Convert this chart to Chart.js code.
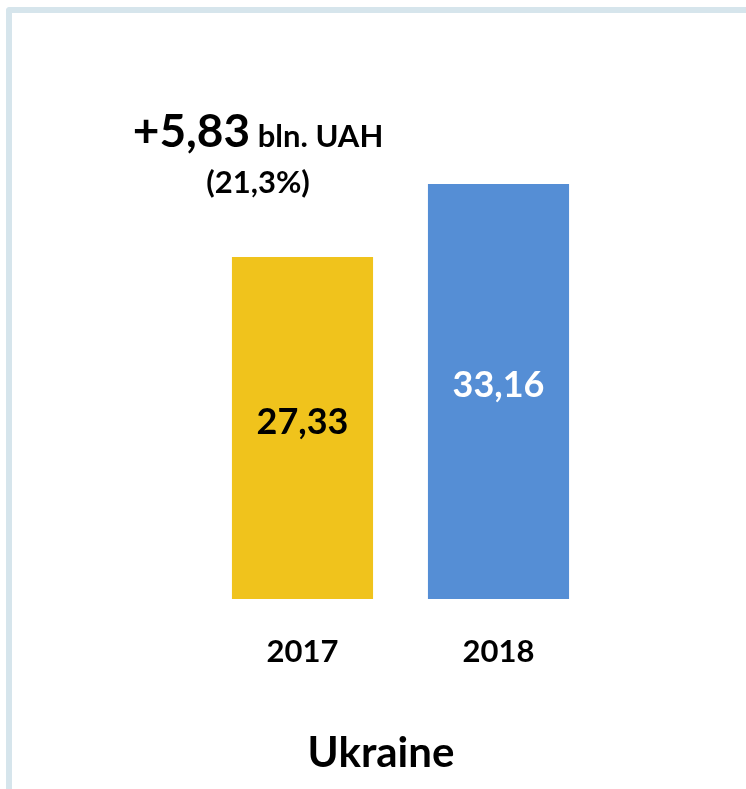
<!DOCTYPE html>
<html>
<head>
<meta charset="utf-8">
<script src="https://cdn.jsdelivr.net/npm/chart.js@4"></script>
<style>
  html, body { margin: 0; padding: 0; background: #ffffff; }
  #wrap { position: relative; width: 746px; height: 789px; overflow: hidden; }
  #frame { position: absolute; left: 6px; top: 7px; width: 800px; height: 900px;
           border-left: 6px solid #d6e5ec; border-top: 6px solid #d6e5ec;
           border-top-left-radius: 4px; box-sizing: border-box; }
  canvas { position: absolute; left: 0; top: 0; }
</style>
</head>
<body>
<div id="wrap">
  <div id="frame"></div>
  <canvas id="c" width="746" height="789"></canvas>
</div>
<script>
const categories = ['2017', '2018'];
const values = [27.33, 33.16];
const valueLabels = ['27,33', '33,16'];
const barColors = ['#f0c31c', '#558ed5'];
const labelColors = ['#000000', '#ffffff'];
const chartTitle = 'Ukraine';
const changeMain = '+5,83';
const changeUnit = ' bln. UAH';
const changePct = '(21,3%)';

const FONT = 'Lato, "Open Sans", sans-serif';

const barLabelsPlugin = {
  id: 'barLabels',
  afterDatasetsDraw(chart) {
    const ctx = chart.ctx;
    const meta = chart.getDatasetMeta(0);
    ctx.save();
    ctx.font = 'bold 36px ' + FONT;
    ctx.textAlign = 'center';
    ctx.textBaseline = 'middle';
    meta.data.forEach((bar, i) => {
      const cy = (bar.y + bar.base) / 2 - 6;
      ctx.fillStyle = labelColors[i];
      ctx.fillText(valueLabels[i], bar.x, cy);
    });
    ctx.restore();
  }
};

const changePlugin = {
  id: 'changeNote',
  afterDraw(chart) {
    const ctx = chart.ctx;
    const cx = 258;
    ctx.save();
    ctx.fillStyle = '#000000';
    ctx.textBaseline = 'alphabetic';
    ctx.font = 'bold 46px ' + FONT;
    const w1 = ctx.measureText(changeMain).width;
    ctx.font = 'bold 31px ' + FONT;
    const w2 = ctx.measureText(changeUnit).width;
    const start = cx - (w1 + w2) / 2;
    ctx.textAlign = 'left';
    ctx.font = 'bold 46px ' + FONT;
    ctx.fillText(changeMain, start, 147);
    ctx.font = 'bold 31px ' + FONT;
    ctx.fillText(changeUnit, start + w1, 147);
    ctx.textAlign = 'center';
    ctx.fillText(changePct, cx, 193);
    ctx.restore();
  }
};

new Chart(document.getElementById('c'), {
  type: 'bar',
  data: {
    labels: categories,
    datasets: [{
      data: values,
      backgroundColor: barColors,
      borderWidth: 0,
      categoryPercentage: 1.0,
      barPercentage: 0.72
    }]
  },
  options: {
    responsive: false,
    animation: false,
    events: [],
    layout: { padding: { left: 165.5, right: 149.5, top: 98.4, bottom: 10.6 } },
    plugins: {
      legend: { display: false },
      tooltip: { enabled: false },
      title: {
        display: true,
        position: 'bottom',
        text: chartTitle,
        color: '#000000',
        font: { family: FONT, size: 42, weight: 'bold', lineHeight: 1.2 },
        padding: { top: 23.8, bottom: 0 }
      }
    },
    scales: {
      x: {
        grid: { display: false, drawTicks: false },
        border: { display: false },
        ticks: {
          color: '#000000',
          padding: 34,
          font: { family: FONT, size: 31, weight: 'bold', lineHeight: 1.2 }
        }
      },
      y: {
        min: 0,
        max: 40,
        grid: { display: false, drawTicks: false },
        border: { display: false },
        ticks: { display: false },
        afterFit(scale) { scale.width = 39; }
      }
    }
  },
  plugins: [barLabelsPlugin, changePlugin]
});
</script>
</body>
</html>
